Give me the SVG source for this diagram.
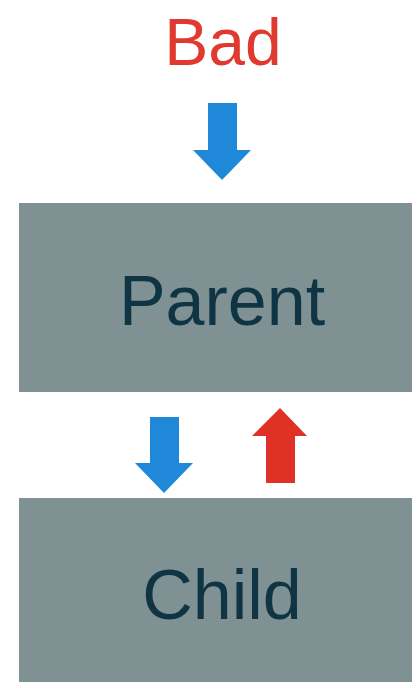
<svg xmlns="http://www.w3.org/2000/svg" width="412" height="682" viewBox="0 0 412 682">
  <style>
    .box { fill: #7f9193; }
    .lbl { font-family: "Liberation Sans", Arial, sans-serif; font-size: 70px; fill: #0f3443; text-anchor: middle; }
    .title { font-family: "Liberation Sans", Arial, sans-serif; font-size: 66px; fill: #e0392f; text-anchor: middle; }
    .down { fill: #1f88d8; }
    .up { fill: #e03127; }
  </style>
  <rect width="412" height="682" fill="#ffffff"/>
  <text class="title" x="223" y="65">Bad</text>

  <g id="parent">
    <rect class="box" x="19" y="203" width="393" height="189"/>
    <text class="lbl" x="222" y="325">Parent</text>
  </g>

  <g id="child">
    <rect class="box" x="19" y="498" width="393" height="184"/>
    <text class="lbl" x="222" y="619">Child</text>
  </g>

  <g id="connectors">
    <!-- incoming arrow above Parent -->
    <polygon class="down" points="208,103 237,103 237,150 251,150 222,180 193,150 208,150"/>
    <!-- Parent to Child -->
    <polygon class="down" points="150,417 179,417 179,463 193,463 164,493 135,463 150,463"/>
    <!-- Child back to Parent -->
    <polygon class="up" points="266,483 295,483 295,436 307,436 280,408 252,436 266,436"/>
  </g>
</svg>
